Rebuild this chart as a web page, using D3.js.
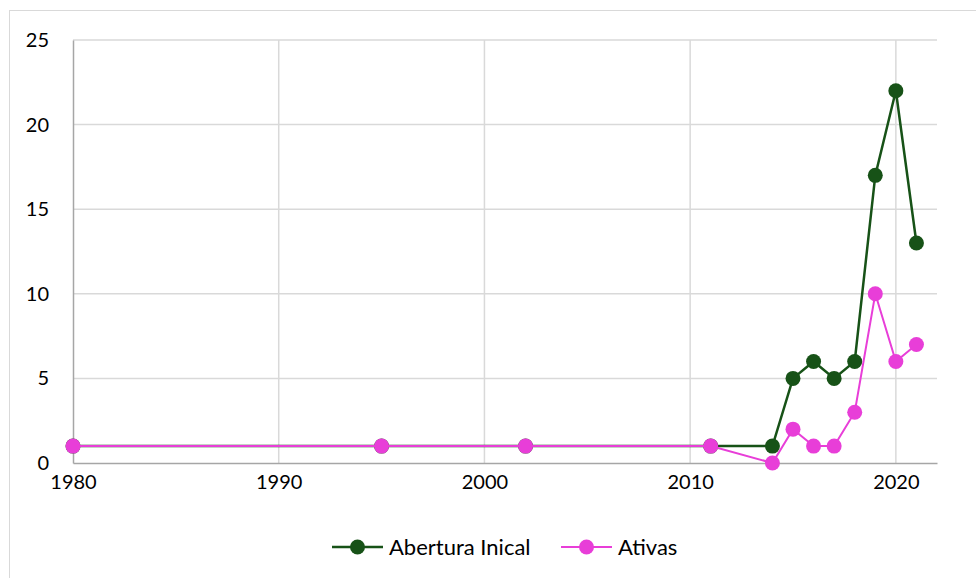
<!DOCTYPE html>
<html>
<head>
<meta charset="utf-8">
<script src="https://cdn.jsdelivr.net/npm/d3@7"></script>
<style>
  body { margin: 0; background: #fff; }
  svg { display: block; font-family: Lato, "Open Sans", sans-serif; }
</style>
</head>
<body>
<svg id="chart" width="976" height="578"></svg>
<script>
// data
const years = [1980, 1995, 2002, 2011, 2014, 2015, 2016, 2017, 2018, 2019, 2020, 2021];
const abertura = [1, 1, 1, 1, 1, 5, 6, 5, 6, 17, 22, 13];
const ativas = [1, 1, 1, 1, 0, 2, 1, 1, 3, 10, 6, 7];
const xTicks = [1980, 1990, 2000, 2010, 2020];
const yTicks = [0, 5, 10, 15, 20, 25];
const seriesNames = ['Abertura Inical', 'Ativas'];

const width = 976, height = 578;
const marginTop = 40, marginRight = 39, marginBottom = 115, marginLeft = 73;

const svg = d3.select('#chart');

// outer frame
svg.append('rect')
    .attr('x', 9.5).attr('y', 10.5)
    .attr('width', width).attr('height', height)
    .attr('fill', 'none')
    .attr('stroke', '#d9d9d9');

const x = d3.scaleLinear()
    .domain([1980, 2022])
    .range([marginLeft, width - marginRight]);

const y = d3.scaleLinear()
    .domain([0, 25])
    .range([height - marginBottom, marginTop]);

// grid
svg.append('g')
    .selectAll('line')
    .data(yTicks.filter(d => d > 0))
    .join('line')
    .attr('x1', x(1980)).attr('x2', x(2022))
    .attr('y1', d => y(d)).attr('y2', d => y(d))
    .attr('stroke', '#d9d9d9').attr('stroke-width', 1.5);

svg.append('g')
    .selectAll('line')
    .data(xTicks.filter(d => d > 1980))
    .join('line')
    .attr('x1', d => x(d)).attr('x2', d => x(d))
    .attr('y1', y(0)).attr('y2', y(25))
    .attr('stroke', '#d9d9d9').attr('stroke-width', 1.5);

// axes
const yAxis = d3.axisLeft(y).tickValues(yTicks).tickSize(0).tickPadding(24);
const gy = svg.append('g')
    .attr('transform', `translate(${marginLeft},0)`)
    .call(yAxis);
gy.select('.domain').attr('stroke', '#a6a6a6').attr('stroke-width', 1.5);
gy.selectAll('text').attr('font-size', 20).attr('fill', '#000').attr('font-family', 'Lato, sans-serif');

const xAxis = d3.axisBottom(x).tickValues(xTicks).tickFormat(d3.format('d')).tickSize(0).tickPadding(12);
const gx = svg.append('g')
    .attr('transform', `translate(0,${height - marginBottom})`)
    .call(xAxis);
gx.select('.domain').attr('stroke', '#a6a6a6').attr('stroke-width', 1.5);
gx.selectAll('text').attr('font-size', 20).attr('fill', '#000').attr('font-family', 'Lato, sans-serif');

// series
const series = [
    { name: seriesNames[0], values: abertura, color: '#175217', width: 2.5 },
    { name: seriesNames[1], values: ativas, color: '#e83ed8', width: 2 }
];

const line = d3.line()
    .x((d, i) => x(years[i]))
    .y(d => y(d));

series.forEach(s => {
    svg.append('path')
        .attr('d', line(s.values))
        .attr('fill', 'none')
        .attr('stroke', s.color)
        .attr('stroke-width', s.width);
    svg.append('g')
        .selectAll('circle')
        .data(s.values)
        .join('circle')
        .attr('cx', (d, i) => x(years[i]))
        .attr('cy', d => y(d))
        .attr('r', 7.5)
        .attr('fill', s.color);
});

// legend
const legendX = [332, 561];
const legendY = 547;
series.forEach((s, i) => {
    const g = svg.append('g').attr('transform', `translate(${legendX[i]},${legendY})`);
    g.append('line')
        .attr('x1', 0).attr('x2', 51)
        .attr('stroke', s.color).attr('stroke-width', s.width);
    g.append('circle').attr('cx', 25.5).attr('r', 7.5).attr('fill', s.color);
    g.append('text')
        .attr('x', 57).attr('dy', '0.35em')
        .attr('font-size', 22)
        .text(s.name);
});
</script>
</body>
</html>
